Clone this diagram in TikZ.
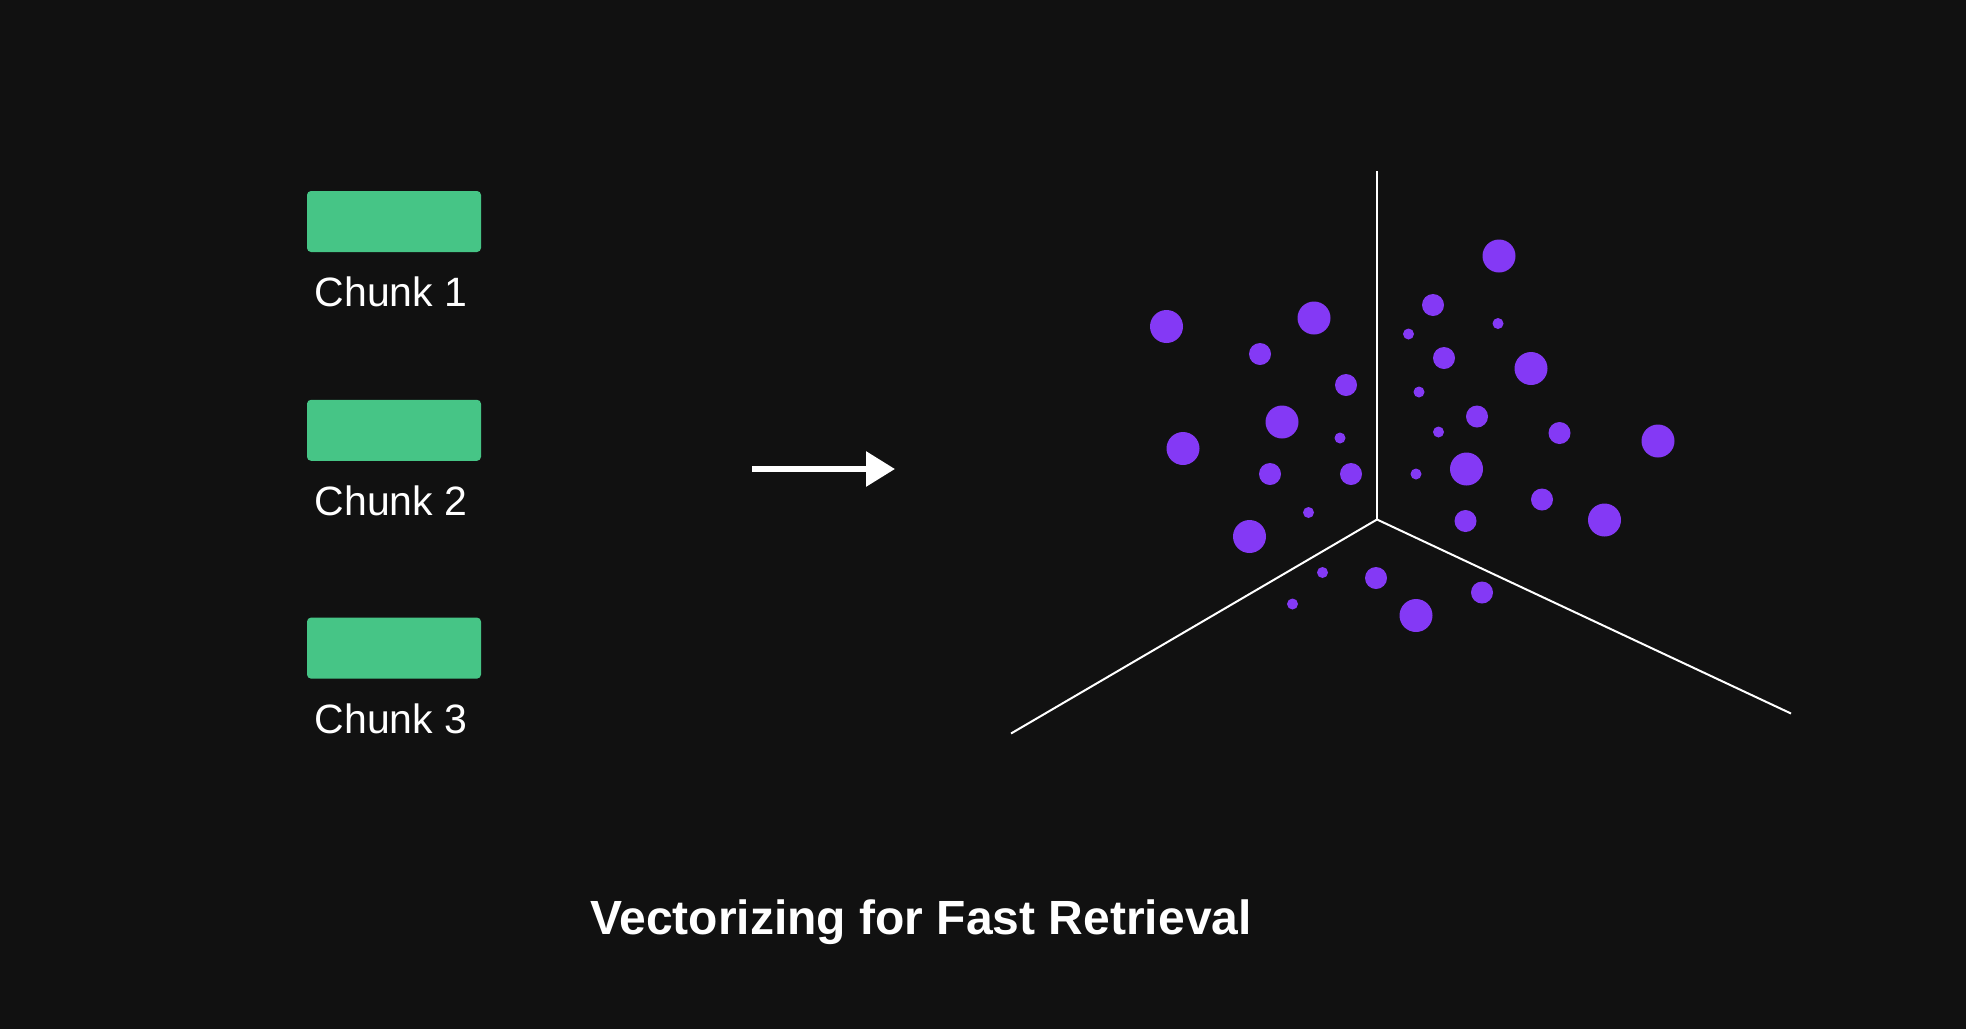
\documentclass[tikz,border=0pt]{standalone}
\usepackage{fontspec}
\setmainfont{Liberation Sans}
\usepackage{tikz}
\usetikzlibrary{positioning, arrows.meta}
\definecolor{bgdark}{HTML}{111111}
\definecolor{chunkgreen}{HTML}{46C586}
\definecolor{dotpurple}{HTML}{8439F5}
\tikzstyle{chunk} = [rectangle, rounded corners=2pt, minimum width=87pt, minimum height=30.5pt, inner sep=0pt, fill=chunkgreen]
\tikzstyle{chunklabel} = [inner sep=0pt, xshift=-1.5pt, text=white, font=\fontsize{20.5}{24}\selectfont]
\tikzstyle{titletext} = [inner sep=0pt, text=white, font=\fontsize{24}{28}\selectfont\bfseries]
\tikzstyle{axisline} = [white, line width=1pt]
\tikzstyle{arrow} = [white, line width=3pt, -{Triangle[length=14.5pt, width=17pt]}]
\tikzstyle{dot} = [fill=dotpurple]

\begin{document}
\begin{tikzpicture}[x=0.5pt, y=-0.5pt]
    % Fondo
    \fill[bgdark] (0,0) rectangle (1966,1029);
    \useasboundingbox (0,0) rectangle (1966,1029);

    % Chunks
    \node (c1) [chunk] at (394,221.5) {};
    \node (c2) [chunk, below=73.5pt of c1] {};
    \node (c3) [chunk, below=78pt of c2] {};
    \node (l1) [chunklabel, below=12pt of c1] {Chunk 1};
    \node (l2) [chunklabel, below=12pt of c2] {Chunk 2};
    \node (l3) [chunklabel, below=12pt of c3] {Chunk 3};

    % Flecha
    \coordinate (arrS) at (752,469);
    \coordinate (arrE) at (895,469);
    \draw [arrow] (arrS) -- (arrE);

    % Ejes
    \coordinate (origin) at (1377,519.5);
    \coordinate (axUp) at (1377,171);
    \coordinate (axLeft) at (1011,733.5);
    \coordinate (axRight) at (1791,713.5);
    \draw [axisline] (axUp) -- (origin);
    \draw [axisline] (axLeft) -- (origin) -- (axRight);

    % Vectores
    \foreach \x/\y/\r in {
        1499/256/8.25, 1166.5/326.5/8.25, 1314/318/8.25, 1433/305/5.5,
        1498/323.5/2.75, 1408.5/334/2.75, 1260/354/5.5, 1444/358/5.5,
        1531/368.5/8.25, 1346/385/5.5, 1419/392/2.75, 1282/422/8.25,
        1477/416.5/5.5, 1183/448.5/8.25, 1340/438/2.75, 1438.5/432/2.75,
        1559.5/433/5.5, 1658/441/8.25, 1270/474/5.5, 1351/474/5.5,
        1416/474/2.75, 1466.5/469/8.25, 1542/499.5/5.5, 1308.5/512.5/2.75,
        1465.5/521/5.5, 1249.5/536.5/8.25, 1604.5/520/8.25, 1322.5/572.5/2.75,
        1376/578/5.5, 1292.5/604/2.75, 1482/592.5/5.5, 1416/615.5/8.25}
        \fill [dot] (\x,\y) circle [radius=\r pt];

    % Titulo
    \node (title) [titletext, anchor=base] at (921,934) {Vectorizing for Fast Retrieval};
\end{tikzpicture}
\end{document}
